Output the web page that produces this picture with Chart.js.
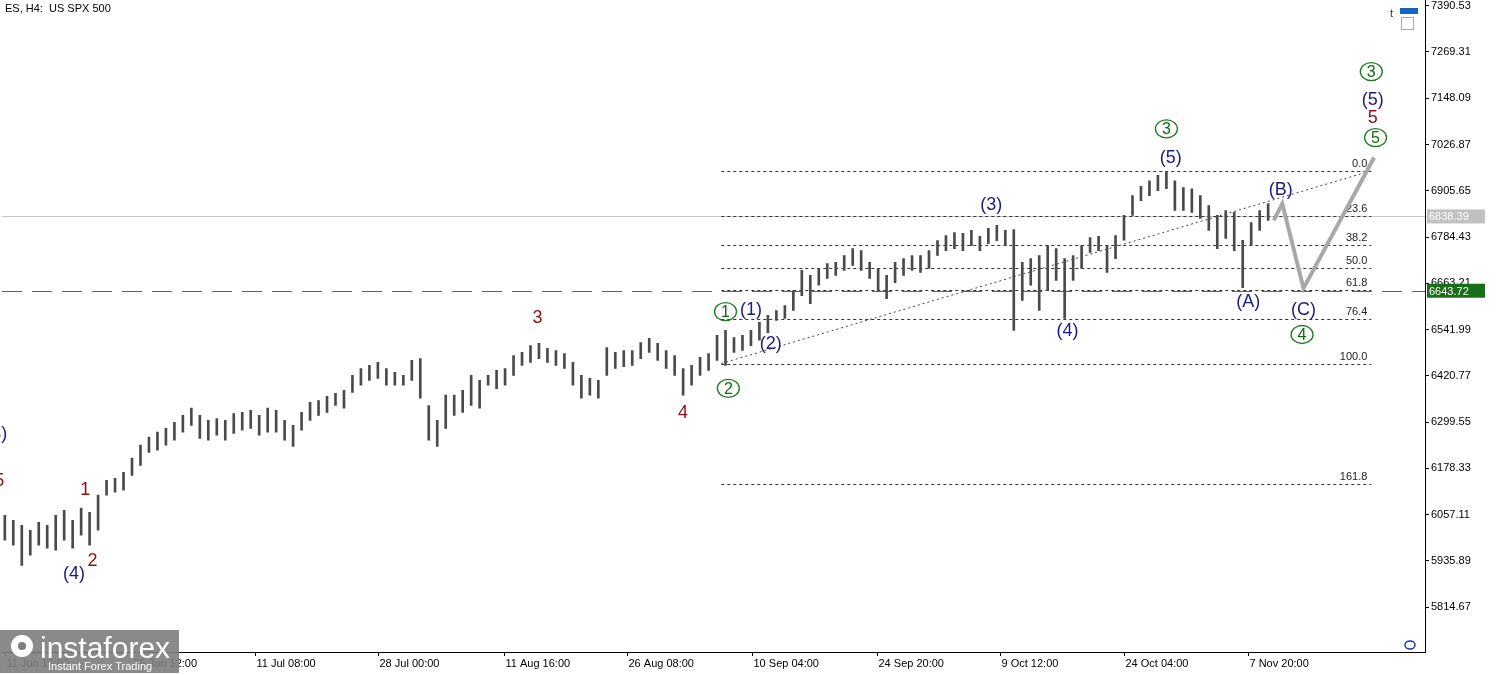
<!DOCTYPE html>
<html>
<head>
<meta charset="utf-8">
<script src="https://cdn.jsdelivr.net/npm/chart.js@4.4.0/dist/chart.umd.min.js"></script>
<style>
  html, body { margin: 0; padding: 0; background: #fff; }
  #wrap { width: 1500px; height: 675px; position: relative; overflow: hidden; }
  #chart { position: absolute; left: 0; top: -8px; }
</style>
</head>
<body>
<div id="wrap"><canvas id="chart" width="1500" height="683"></canvas></div>
<script>
const OFF = 8; // canvas is shifted up so the plot starts at the window top

// H4 bars, one sample every 6 bars
const barStep = 6;
const highs = [6055,6042,6029,6016,6037,6029,6055,6068,6042,6074,6063,6108,6147,6152,6168,6205,6239,6260,6273,6283,
  6299,6317,6336,6317,6304,6309,6304,6322,6325,6330,6317,6336,6330,6304,6291,6325,6351,6356,6367,6375,
  6383,6422,6440,6448,6456,6440,6430,6422,6461,6466,6343,6304,6370,6370,6383,6422,6409,6422,6435,6440,
  6474,6482,6500,6506,6493,6487,6479,6456,6422,6414,6409,6495,6482,6487,6487,6508,6519,6506,6487,6474,
  6440,6448,6469,6479,6527,6540,6521,6527,6540,6561,6579,6592,6605,6644,6697,6684,6702,6715,6718,6736,
  6754,6749,6718,6702,6684,6718,6728,6736,6736,6749,6775,6788,6796,6794,6802,6786,6807,6815,6802,6804,
  6718,6728,6736,6762,6754,6728,6736,6762,6783,6786,6762,6788,6841,6893,6917,6932,6946,6956,6932,6914,
  6911,6893,6867,6841,6854,6849,6776,6822,6854,6872];
const lows = [5990,5977,5924,5951,5977,5969,5964,5990,5969,6003,5977,6016,6108,6116,6121,6160,6186,6220,6226,6239,
  6252,6273,6291,6257,6252,6265,6252,6270,6278,6283,6265,6273,6273,6252,6236,6278,6304,6317,6325,6343,
  6336,6377,6396,6409,6414,6396,6396,6396,6409,6362,6252,6236,6283,6317,6325,6343,6336,6396,6387,6396,
  6422,6448,6456,6466,6456,6448,6440,6396,6362,6370,6362,6422,6440,6445,6448,6466,6482,6461,6440,6422,
  6370,6396,6422,6435,6461,6448,6482,6487,6500,6514,6534,6566,6571,6592,6631,6610,6658,6676,6684,6697,
  6710,6697,6676,6645,6623,6665,6684,6697,6692,6702,6736,6749,6754,6749,6762,6749,6767,6775,6762,6540,
  6618,6658,6592,6644,6671,6571,6671,6702,6744,6749,6692,6728,6776,6841,6880,6893,6906,6911,6854,6854,
  6849,6833,6802,6754,6781,6749,6652,6762,6802,6828];

const yTicks = [5814.67,5935.89,6057.11,6178.33,6299.55,6420.77,6541.99,6663.21,6784.43,6905.65,7026.87,7148.09,7269.31,7390.53];
const xTickBars = [0,90,177,264,353,440,529,617,704,792,880];
const xTickLabels = ['11 Jun 16:00','26 Jun 12:00','11 Jul 08:00','28 Jul 00:00','11 Aug 16:00','26 Aug 08:00',
  '10 Sep 04:00','24 Sep 20:00','9 Oct 12:00','24 Oct 04:00','7 Nov 20:00'];

// projected path
const forecastBars = [898,904,919,969];
const forecastPrices = [6828,6872,6650,6993];

// fibonacci grid from wave (2) low to wave (5) high
const fibFrom = 507, fibTo = 967;
const fibLow = 6450.7, fibHigh = 6958;
const fibLevels = [0.0, 23.6, 38.2, 50.0, 61.8, 76.4, 100.0, 161.8];
const trendBars = [507,967];
const trendPrices = [6453,6958];

const lastPrice = 6838.39;
const supportPrice = 6643.72;

// wave labels: [text, bar, price, kind]
const waveLabels = [
  ['(3)',-6,6270,'navy'],['5',-4,6147,'red'],
  ['1',57,6123,'red'],['2',62,5937,'red'],['(4)',49,5903,'navy'],
  ['3',377,6574,'red'],['4',480,6325,'red'],
  ['1',510,6589,'ring'],['(1)',528,6595,'navy'],['(2)',542,6506,'navy'],['2',512,6388,'ring'],
  ['(3)',698,6872,'navy'],['(4)',752,6540,'navy'],
  ['3',822,7068,'ring'],['(5)',825,6993,'navy'],
  ['(A)',880,6616,'navy'],['(B)',903,6911,'navy'],['(C)',919,6595,'navy'],['4',918,6529,'ring'],
  ['3',967,7218,'ring'],['(5)',968,7147,'navy'],['5',968,7100,'red'],['5',970,7045,'ring']
];

const ohlc = highs.map((h, i) => ({ x: i * barStep, y: [lows[i], h] }));
const FONT = '"Liberation Sans", Arial, sans-serif';

const overlay = {
  id: 'overlay',
  beforeDatasetsDraw(chart) {
    const { ctx, chartArea: a, scales: { x, y } } = chart;
    ctx.save();
    // last price line
    ctx.strokeStyle = '#c8c8c8'; ctx.lineWidth = 1;
    let py = Math.round(y.getPixelForValue(lastPrice)) + 0.5;
    ctx.beginPath(); ctx.moveTo(a.left, py); ctx.lineTo(a.right, py); ctx.stroke();
    // support
    ctx.strokeStyle = '#1f8f1f'; ctx.setLineDash([20, 10]);
    py = Math.round(y.getPixelForValue(supportPrice)) + 0.5;
    ctx.beginPath(); ctx.moveTo(a.left, py); ctx.lineTo(a.right, py); ctx.stroke();
    // fib grid
    ctx.setLineDash([3, 3]); ctx.strokeStyle = '#333';
    ctx.font = '11px ' + FONT; ctx.fillStyle = '#222';
    ctx.textAlign = 'right'; ctx.textBaseline = 'bottom';
    const x0 = x.getPixelForValue(fibFrom), x1 = x.getPixelForValue(fibTo);
    fibLevels.forEach(f => {
      const v = fibHigh - f / 100 * (fibHigh - fibLow);
      const yy = Math.round(y.getPixelForValue(v)) + 0.5;
      ctx.beginPath(); ctx.moveTo(x0, yy); ctx.lineTo(x1, yy); ctx.stroke();
      ctx.fillText(f.toFixed(1), x1 - 4, yy - 2);
    });
    // trend line
    ctx.setLineDash([2, 3]); ctx.strokeStyle = '#444';
    ctx.beginPath();
    ctx.moveTo(x.getPixelForValue(trendBars[0]), y.getPixelForValue(trendPrices[0]));
    ctx.lineTo(x.getPixelForValue(trendBars[1]), y.getPixelForValue(trendPrices[1]));
    ctx.stroke();
    ctx.restore();
  },
  afterDraw(chart) {
    const { ctx, chartArea: a, scales: { x, y } } = chart;
    ctx.save();
    ctx.beginPath(); ctx.rect(0, 0, a.right, a.bottom); ctx.clip();
    ctx.textAlign = 'center'; ctx.textBaseline = 'middle';
    waveLabels.forEach(([t, b, p, kind]) => {
      const px = x.getPixelForValue(b), py = y.getPixelForValue(p);
      if (kind === 'ring') {
        ctx.strokeStyle = '#1f7a1f'; ctx.lineWidth = 1.3;
        ctx.beginPath(); ctx.ellipse(px, py, 11, 9, 0, 0, Math.PI * 2); ctx.stroke();
        ctx.fillStyle = '#0d6b0d'; ctx.font = '16px ' + FONT;
      } else {
        ctx.fillStyle = kind === 'navy' ? '#1c1c80' : '#8b1010';
        ctx.font = '18px ' + FONT;
      }
      ctx.fillText(t, px, py + 1);
    });
    ctx.restore();

    ctx.save();
    // x labels, left-aligned at their ticks like the terminal does
    ctx.strokeStyle = '#000'; ctx.lineWidth = 1;
    ctx.fillStyle = '#000'; ctx.font = '11px ' + FONT;
    ctx.textAlign = 'left'; ctx.textBaseline = 'top';
    xTickBars.forEach((b, i) => {
      const px = Math.round(x.getPixelForValue(b)) + 0.5;
      ctx.beginPath(); ctx.moveTo(px, a.bottom); ctx.lineTo(px, a.bottom + 4); ctx.stroke();
      ctx.fillText(xTickLabels[i], px + 1, a.bottom + 6);
    });
    // header
    ctx.fillText('ES, H4:  US SPX 500', 5, 3 + OFF);
    // price boxes on the axis
    const box = (v, bg) => {
      const yy = y.getPixelForValue(v);
      ctx.fillStyle = bg; ctx.fillRect(a.right + 2, yy - 7, 58, 14);
      ctx.fillStyle = '#fff'; ctx.textBaseline = 'middle';
      ctx.fillText(v.toFixed(2), a.right + 4, yy + 1);
    };
    box(lastPrice, '#c0c0c0');
    box(supportPrice, '#1a6e1a');
    // broker logo
    const ly = 630 + OFF;
    ctx.fillStyle = 'rgba(125,125,125,0.9)';
    ctx.fillRect(0, ly, 179, 43);
    ctx.fillStyle = '#fff';
    ctx.beginPath(); ctx.arc(22, ly + 16, 11, 0, Math.PI * 2); ctx.fill();
    ctx.fillStyle = 'rgba(125,125,125,1)';
    ctx.beginPath(); ctx.arc(22, ly + 16, 4, 0, Math.PI * 2); ctx.fill();
    ctx.fillStyle = '#fff';
    ctx.font = '30px ' + FONT;
    ctx.textBaseline = 'alphabetic';
    ctx.fillText('instaforex', 40, ly + 28);
    ctx.font = '11px ' + FONT;
    ctx.fillText('Instant Forex Trading', 48, ly + 40);
    // small icons top-right
    ctx.fillStyle = '#333'; ctx.fillText('t', 1390, 17 + OFF);
    ctx.fillStyle = '#1565c0'; ctx.fillRect(1400, 8 + OFF, 18, 6);
    ctx.strokeStyle = '#aaa'; ctx.strokeRect(1401.5, 17.5 + OFF, 12, 12);
    ctx.strokeStyle = '#1e3d9e'; ctx.lineWidth = 1.5;
    ctx.beginPath(); ctx.ellipse(1410, 645 + OFF, 5, 4, 0, 0, Math.PI * 2); ctx.stroke();
    ctx.restore();
  }
};

new Chart(document.getElementById('chart'), {
  data: {
    datasets: [
      {
        type: 'bar', data: ohlc, backgroundColor: '#4a4a4a', barThickness: 2,
        order: 2
      },
      {
        type: 'line', data: forecastBars.map((b, i) => ({ x: b, y: forecastPrices[i] })),
        borderColor: '#a8a8a8', borderWidth: 4, pointRadius: 0, tension: 0, order: 1
      }
    ]
  },
  options: {
    responsive: false, animation: false,
    layout: { padding: { left: 2, top: 0, right: 0, bottom: 0 } },
    plugins: { legend: { display: false }, tooltip: { enabled: false } },
    scales: {
      x: {
        type: 'linear', min: -2, max: 1005, offset: false,
        afterBuildTicks: s => { s.ticks = xTickBars.map(v => ({ value: v })); },
        afterFit: s => { s.height = 23; },
        ticks: { display: false },
        grid: { display: false },
        border: { color: '#000' }
      },
      y: {
        position: 'right', min: 5697, max: 7404,
        afterBuildTicks: s => { s.ticks = yTicks.map(v => ({ value: v })); },
        afterFit: s => { s.width = 75; },
        ticks: {
          color: '#000', padding: 2,
          font: { size: 11, family: FONT },
          callback: v => v.toFixed(2)
        },
        grid: { drawOnChartArea: false, tickLength: 4, color: '#000' },
        border: { color: '#000' }
      }
    }
  },
  plugins: [overlay]
});
</script>
</body>
</html>
